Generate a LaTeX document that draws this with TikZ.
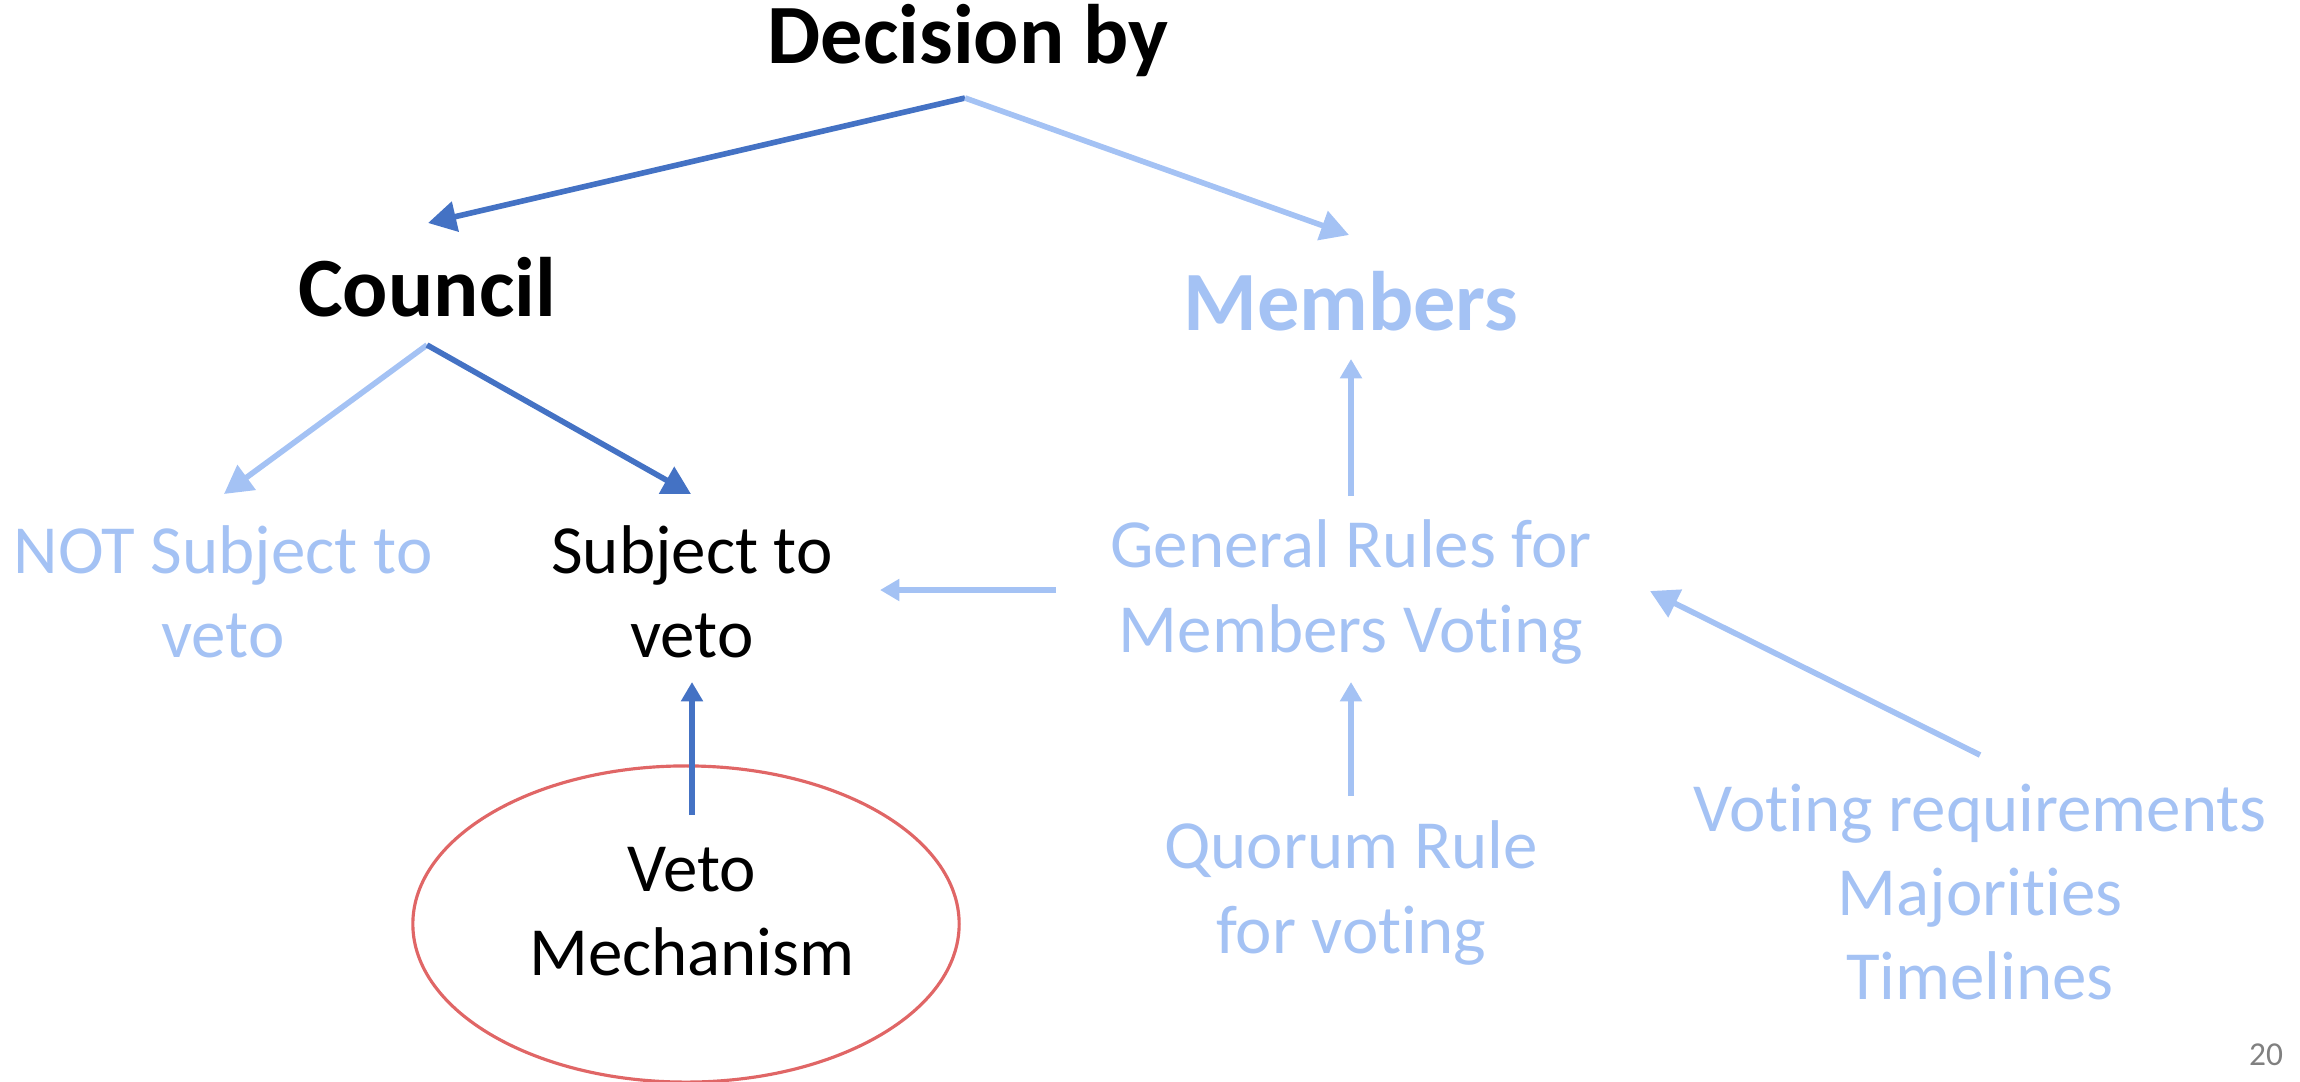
\documentclass[tikz,border=0pt]{standalone}
\usepackage{fontspec}
\setmainfont{Carlito}[Ligatures=NoCommon]
\usetikzlibrary{arrows.meta,calc}
\definecolor{darkblue}{HTML}{4472C4}
\definecolor{lightblue}{HTML}{A4C2F4}
\definecolor{vetored}{HTML}{E06666}

\begin{document}
\begin{tikzpicture}[x=0.01cm, y=-0.01cm,
  bigtxt/.style={font=\fontsize{24}{29}\selectfont\bfseries, inner sep=0pt},
  txt/.style={font=\fontsize{19.6}{23.9}\selectfont, align=center, inner sep=0pt},
  darkarrow/.style={draw=darkblue, line width=1.6pt, -{Triangle[length=8pt,width=8.5pt]}},
  lightarrow/.style={draw=lightblue, line width=1.6pt, -{Triangle[length=8pt,width=8.5pt]}},
  smallarrow/.style={lightarrow, -{Triangle[length=5.5pt,width=6pt]}}]
\useasboundingbox (0,0) rectangle (2300,1082);
% headings
\node [bigtxt] (dec) at (968,41) {Decision by};
\node [bigtxt] (council) at (427,287) {Council};
\node [bigtxt, text=lightblue] (members) at (1351,301) {Members};
% second row
\node [txt, text=lightblue] (notsub) at (223,592) {NOT Subject to\\veto};
\node [txt] (sub) at (692,592) {Subject to\\veto};
\node [txt, text=lightblue] (general) at (1351,592) {General Rules for\\Members Voting};
% bottom row
\draw [vetored, line width=0.9pt] (686,924) ellipse [x radius=2.73cm, y radius=1.58cm];
\node [txt] (veto) at (692,912) {Veto\\Mechanism};
\node [txt, text=lightblue] (quorum) at (1351,893) {Quorum Rule\\for voting};
\node [txt, text=lightblue] (voting) at (1980,892) {Voting requirements\\Majorities\\Timelines};
\node [font=\fontsize{9.5}{11}\selectfont, text=gray, inner sep=0pt] (page) at (2266,1055) {20};
% arrows
\draw [darkarrow] ($(dec)+(-3,57)$) -- ($(council)+(1,-64)$);
\draw [lightarrow] ($(dec)+(-3,57)$) -- ($(members)+(-2,-66)$);
\draw [lightarrow] ($(council)+(0,58)$) -- ($(notsub)+(1,-98)$);
\draw [darkarrow] ($(council)+(0,58)$) -- ($(sub)+(-1,-98)$);
\draw [smallarrow] ($(general)+(0,-96)$) -- ($(members)+(0,58)$);
\draw [smallarrow] ($(general)+(-295,-2)$) -- ($(sub)+(188,-2)$);
\draw [darkarrow, -{Triangle[length=5.5pt,width=6pt]}] ($(veto)+(0,-97)$) -- ($(sub)+(0,90)$);
\draw [smallarrow] ($(quorum)+(0,-97)$) -- ($(general)+(0,90)$);
\draw [lightarrow] ($(voting)+(0,-137)$) -- ($(general)+(299,-1)$);
\end{tikzpicture}
\end{document}
